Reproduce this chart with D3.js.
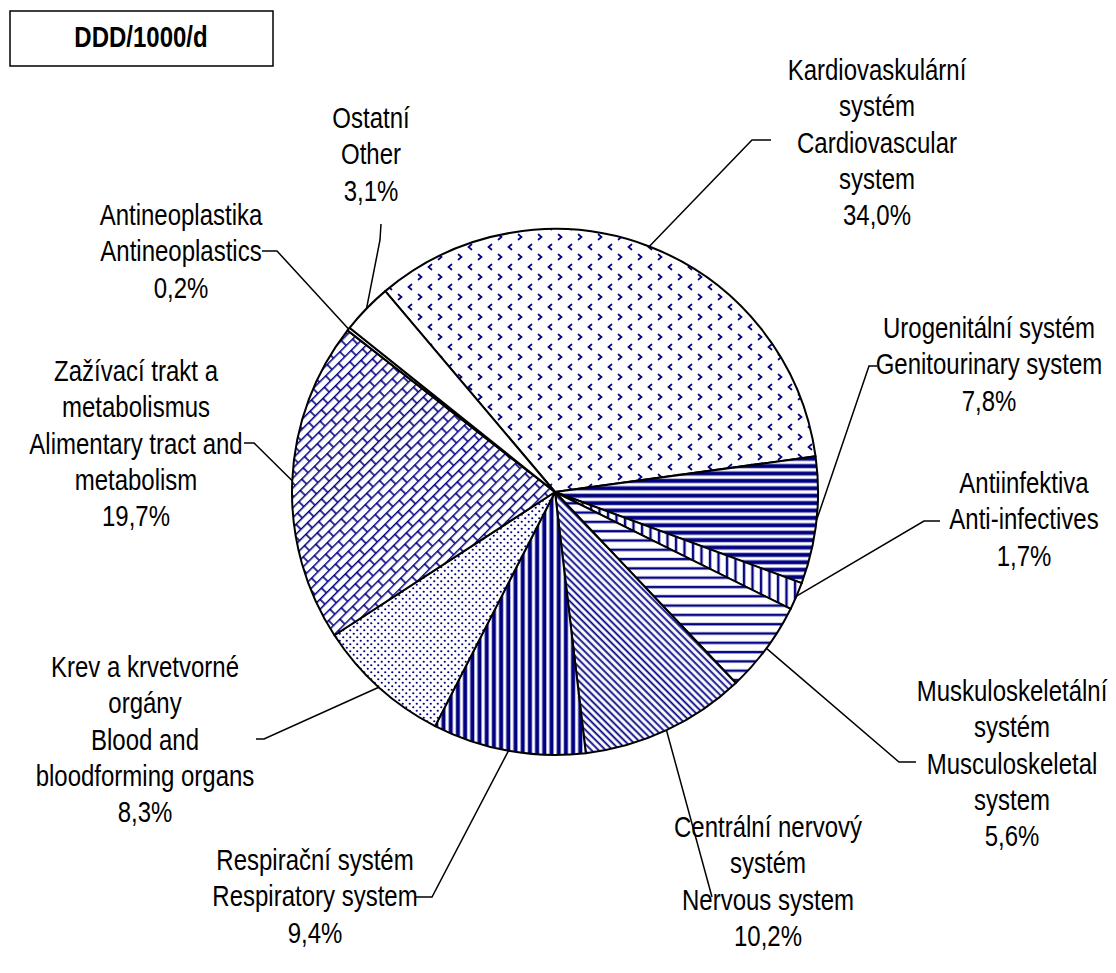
<!DOCTYPE html>
<html>
<head>
<meta charset="utf-8">
<script src="https://cdn.jsdelivr.net/npm/d3@7"></script>
<style>
  body { margin: 0; background: #fff; }
  svg { display: block; }
  text { font-family: "Liberation Sans", Arial, sans-serif; fill: #000; }
</style>
</head>
<body>
<script>
// DDD/1000/d shares by ATC group (clockwise from the cardiovascular slice)
const categoriesCz = ['Kardiovaskulární systém', 'Urogenitální systém', 'Antiinfektiva', 'Muskuloskeletální systém',
  'Centrální nervový systém', 'Respirační systém', 'Krev a krvetvorné orgány', 'Zažívací trakt a metabolismus',
  'Antineoplastika', 'Ostatní'];
const categoriesEn = ['Cardiovascular system', 'Genitourinary system', 'Anti-infectives', 'Musculoskeletal system',
  'Nervous system', 'Respiratory system', 'Blood and bloodforming organs', 'Alimentary tract and metabolism',
  'Antineoplastics', 'Other'];
const shares = [34.0, 7.8, 1.7, 5.6, 10.2, 9.4, 8.3, 19.7, 0.2, 3.1];
// label text, wrapped as in the original
const labelLines = [
  ['Kardiovaskulární', 'systém', 'Cardiovascular', 'system'],
  ['Urogenitální systém', 'Genitourinary system'],
  ['Antiinfektiva', 'Anti-infectives'],
  ['Muskuloskeletální', 'systém', 'Musculoskeletal', 'system'],
  ['Centrální nervový', 'systém', 'Nervous system'],
  ['Respirační systém', 'Respiratory system'],
  ['Krev a krvetvorné', 'orgány', 'Blood and', 'bloodforming organs'],
  ['Zažívací trakt a', 'metabolismus', 'Alimentary tract and', 'metabolism'],
  ['Antineoplastika', 'Antineoplastics'],
  ['Ostatní', 'Other']
];
const unitTitle = 'DDD/1000/d';

// label placement (centre x, first line y, leader elbow and end)
const labelLayout = [
  {cx: 877, y0: 70, elbow: [752, 140], end: [771, 140]},
  {cx: 989, y0: 328, elbow: [869, 366], end: [877, 366]},
  {cx: 1024, y0: 483, elbow: [924, 521], end: [940, 521]},
  {cx: 1012, y0: 691, elbow: [899, 762], end: [916, 762]},
  {cx: 768, y0: 827, elbow: [712, 897], end: [712, 897]},
  {cx: 315, y0: 860, elbow: [432, 897], end: [415, 897]},
  {cx: 145, y0: 667, elbow: [264, 739], end: [256, 739]},
  {cx: 136, y0: 371, elbow: [254, 443], end: [244, 443]},
  {cx: 181, y0: 215, elbow: [277, 251], end: [262, 251]},
  {cx: 371, y0: 118, elbow: [380, 240], end: [381, 224]}
];

const width = 1116, height = 973;
const cx = 555, cy = 492, radius = 263;
const lineGap = 36.3;
const navy = '#000080', halo = '#9a9ad0';

const svg = d3.select('body').append('svg')
  .attr('width', width)
  .attr('height', height);

const defs = svg.append('defs');

// fill patterns, one per slice
function pattern(id, w, h, transform) {
  const p = defs.append('pattern')
    .attr('id', id)
    .attr('patternUnits', 'userSpaceOnUse')
    .attr('width', w).attr('height', h);
  if (transform) p.attr('patternTransform', transform);
  p.append('rect').attr('width', w).attr('height', h).attr('fill', '#fff');
  return p;
}

// chevrons
let p = pattern('p0', 20, 20);
p.append('path').attr('d', 'M3.5,2.5 L6.5,5 L3.5,7.5').attr('fill', 'none').attr('stroke', navy).attr('stroke-width', 1.7).attr('stroke-linecap', 'round');
p.append('path').attr('d', 'M16.5,12.5 L13.5,15 L16.5,17.5').attr('fill', 'none').attr('stroke', navy).attr('stroke-width', 1.7).attr('stroke-linecap', 'round');

// dark horizontal
p = pattern('p1', 8, 7.4);
p.append('rect').attr('y', 1.2).attr('width', 8).attr('height', 5).attr('fill', halo);
p.append('rect').attr('y', 2).attr('width', 8).attr('height', 3.4).attr('fill', navy);

// narrow vertical
p = pattern('p2', 8.5, 8);
p.append('rect').attr('x', 0.5).attr('width', 3).attr('height', 8).attr('fill', halo);
p.append('rect').attr('x', 1).attr('width', 2).attr('height', 8).attr('fill', navy);

// light horizontal
p = pattern('p3', 8, 9.3);
p.append('rect').attr('y', 0.5).attr('width', 8).attr('height', 3).attr('fill', halo);
p.append('rect').attr('y', 1).attr('width', 8).attr('height', 2).attr('fill', navy);

// light downward diagonal
p = pattern('p4', 8, 5, 'rotate(45)');
p.append('rect').attr('y', 0.5).attr('width', 8).attr('height', 2.4).attr('fill', halo);
p.append('rect').attr('y', 1).attr('width', 8).attr('height', 1.4).attr('fill', navy);

// dark vertical
p = pattern('p5', 7.2, 8);
p.append('rect').attr('x', 1.2).attr('width', 5).attr('height', 8).attr('fill', halo);
p.append('rect').attr('x', 2).attr('width', 3.4).attr('height', 8).attr('fill', navy);

// dots
p = pattern('p6', 7, 7);
p.append('circle').attr('cx', 1.75).attr('cy', 1.75).attr('r', 1.1).attr('fill', navy);
p.append('circle').attr('cx', 5.25).attr('cy', 5.25).attr('r', 1.1).attr('fill', navy);

// diagonal brick
p = pattern('p7', 18, 14, 'rotate(-45)');
p.append('path')
  .attr('d', 'M0,0.75 H18 M0,7.75 H18 M1,0.75 V7.75 M10,7.75 V14.75')
  .attr('fill', 'none').attr('stroke', navy).attr('stroke-width', 1.6);

const fills = ['url(#p0)', 'url(#p1)', 'url(#p2)', 'url(#p3)', 'url(#p4)',
  'url(#p5)', 'url(#p6)', 'url(#p7)', '#fff', '#fff'];

const start = -40.2 * Math.PI / 180;
const pie = d3.pie().sort(null).startAngle(start).endAngle(start + 2 * Math.PI);
const arcs = pie(shares);
const arc = d3.arc().innerRadius(0).outerRadius(radius);
const edge = d3.arc().innerRadius(radius).outerRadius(radius);

const g = svg.append('g').attr('transform', 'translate(' + cx + ',' + cy + ')');

g.selectAll('path.slice')
  .data(arcs)
  .enter().append('path')
  .attr('class', 'slice')
  .attr('d', arc)
  .attr('fill', (d, i) => fills[i])
  .attr('stroke', '#000')
  .attr('stroke-width', 2)
  .attr('stroke-linejoin', 'round');

// leader lines from the slice mid point on the rim
svg.selectAll('path.leader')
  .data(arcs)
  .enter().append('path')
  .attr('class', 'leader')
  .attr('d', (d, i) => {
    const c = edge.centroid(d);
    const L = labelLayout[i];
    return 'M' + (cx + c[0]) + ',' + (cy + c[1]) + 'L' + L.elbow + 'L' + L.end;
  })
  .attr('fill', 'none')
  .attr('stroke', '#000')
  .attr('stroke-width', 1.5);

const fmt = v => d3.format('.1f')(v).replace('.', ',') + '%';

// labels; glyphs are drawn a bit taller than wide, as in the source
labelLines.forEach((lines, i) => {
  const L = labelLayout[i];
  lines.concat([fmt(shares[i])]).forEach((t, k) => {
    svg.append('text')
      .attr('transform', 'translate(' + L.cx + ',' + (L.y0 + k * lineGap) + ') scale(1,1.2)')
      .attr('text-anchor', 'middle')
      .attr('dy', '0.35em')
      .style('font-size', '24px')
      .text(t);
  });
});

// unit box
svg.append('rect')
  .attr('x', 10).attr('y', 11)
  .attr('width', 263).attr('height', 55)
  .attr('fill', '#fff')
  .attr('stroke', '#000')
  .attr('stroke-width', 1.5);
svg.append('text')
  .attr('transform', 'translate(141,37) scale(1,1.2)')
  .attr('text-anchor', 'middle')
  .attr('dy', '0.35em')
  .style('font-size', '24px')
  .style('font-weight', 'bold')
  .text(unitTitle);
</script>
</body>
</html>
